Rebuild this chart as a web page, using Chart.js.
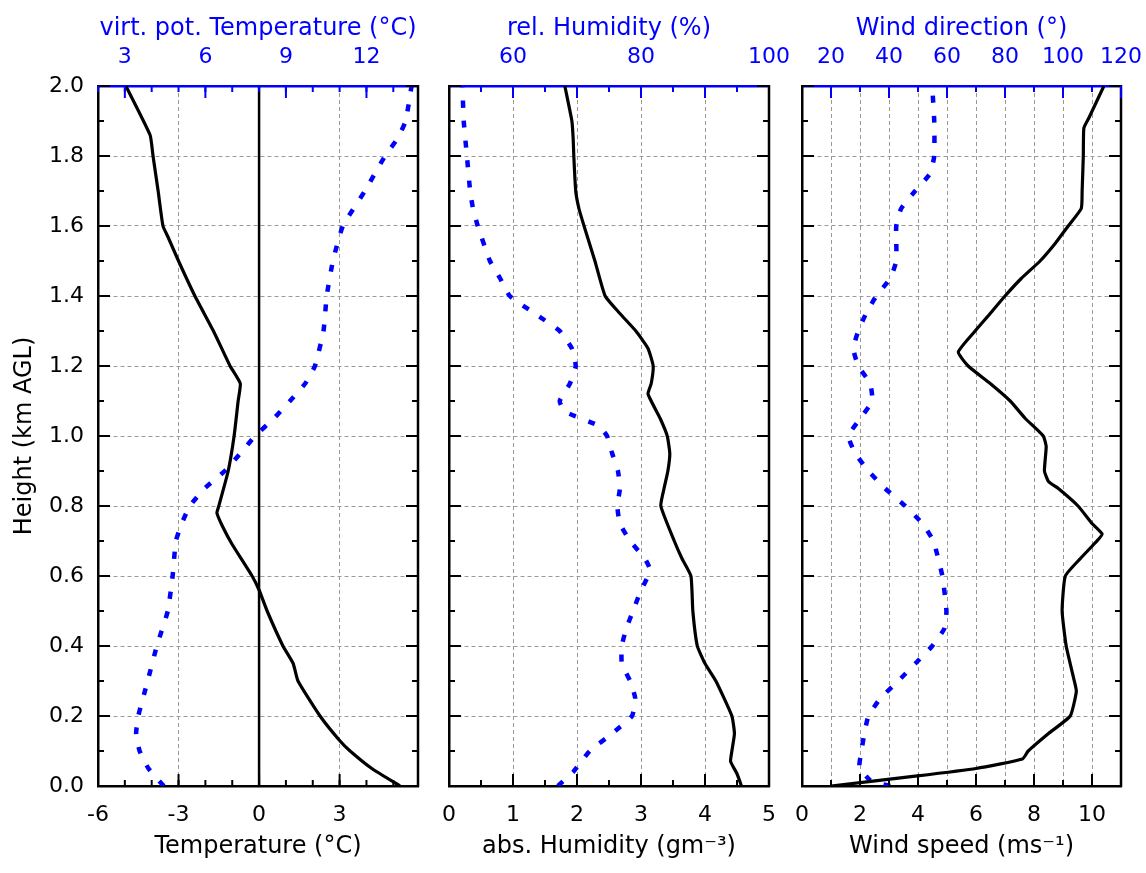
<!DOCTYPE html>
<html>
<head>
<meta charset="utf-8">
<script src="https://cdn.jsdelivr.net/npm/chart.js@4.4.0/dist/chart.umd.min.js"></script>
<style>
  html, body { margin: 0; padding: 0; background: #fff; }
  #wrap { position: relative; width: 1146px; height: 873px; overflow: hidden; }
  canvas { position: absolute; top: 0; }
</style>
</head>
<body>
<div id="wrap">
  <canvas id="tempCanvas" width="440" height="873" style="left:0px"></canvas>
  <canvas id="humCanvas" width="365" height="873" style="left:430px"></canvas>
  <canvas id="windCanvas" width="361" height="873" style="left:785px"></canvas>
</div>
<script>
// profile values (height in km AGL)
var tempHeight = [0.00, 0.05, 0.10, 0.13, 0.20, 0.30, 0.35, 0.40, 0.50, 0.56, 0.60, 0.69, 0.74, 0.78, 0.80, 0.90, 1.00, 1.10, 1.15, 1.20, 1.30, 1.40, 1.50, 1.57, 1.60, 1.70, 1.80, 1.86, 2.00];
var tempValue = [5.25, 4.2, 3.39, 3.0, 2.27, 1.45, 1.27, 0.89, 0.3, 0.0, -0.26, -1.0, -1.35, -1.57, -1.5, -1.15, -0.93, -0.78, -0.7, -1.08, -1.7, -2.39, -3.0, -3.4, -3.58, -3.76, -3.95, -4.06, -4.96];

var thetaHeight = [0.00, 0.05, 0.10, 0.15, 0.20, 0.30, 0.40, 0.50, 0.60, 0.70, 0.75, 0.80, 0.85, 0.90, 0.95, 1.00, 1.05, 1.10, 1.15, 1.20, 1.30, 1.40, 1.50, 1.60, 1.70, 1.80, 1.85, 1.90, 2.00];
var thetaValue = [4.45, 3.88, 3.55, 3.42, 3.5, 3.85, 4.19, 4.6, 4.78, 4.9, 5.12, 5.42, 5.97, 6.72, 7.3, 7.85, 8.55, 9.15, 9.72, 10.08, 10.4, 10.52, 10.75, 11.12, 11.94, 12.69, 13.16, 13.46, 13.68];

var absHeight = [0.00, 0.035, 0.07, 0.10, 0.15, 0.20, 0.30, 0.35, 0.40, 0.50, 0.60, 0.65, 0.70, 0.80, 0.85, 0.90, 0.95, 1.00, 1.05, 1.12, 1.15, 1.20, 1.25, 1.30, 1.35, 1.40, 1.50, 1.60, 1.65, 1.70, 1.80, 1.85, 1.90, 2.00];
var absValue = [4.57, 4.5, 4.4, 4.42, 4.46, 4.42, 4.17, 4.0, 3.88, 3.81, 3.78, 3.64, 3.52, 3.31, 3.36, 3.42, 3.45, 3.41, 3.3, 3.11, 3.16, 3.19, 3.11, 2.92, 2.67, 2.44, 2.28, 2.11, 2.03, 1.98, 1.95, 1.94, 1.92, 1.81];

var rhHeight = [0.00, 0.04, 0.10, 0.15, 0.20, 0.25, 0.30, 0.35, 0.40, 0.45, 0.50, 0.55, 0.60, 0.62, 0.65, 0.70, 0.75, 0.80, 0.85, 0.90, 0.95, 1.00, 1.03, 1.07, 1.10, 1.15, 1.20, 1.25, 1.30, 1.35, 1.40, 1.45, 1.50, 1.60, 1.65, 1.70, 1.80, 1.90, 2.00];
var rhValue = [67, 69.4, 72, 75.5, 78.6, 79.1, 78.3, 77, 77, 77.7, 78.75, 79.8, 81.1, 81.4, 80.6, 78.3, 76.7, 76.3, 76.7, 76.4, 75.5, 74.7, 73.3, 68.1, 67.3, 68.9, 69.8, 69.2, 67.3, 63.4, 59.5, 58, 56.4, 54.5, 53.75, 53.3, 52.8, 52.3, 52.1];

var speedHeight = [0.00, 0.028, 0.05, 0.077, 0.10, 0.15, 0.20, 0.27, 0.30, 0.40, 0.50, 0.60, 0.65, 0.70, 0.72, 0.75, 0.80, 0.85, 0.87, 0.90, 0.97, 1.00, 1.05, 1.10, 1.15, 1.20, 1.24, 1.30, 1.35, 1.40, 1.45, 1.50, 1.55, 1.60, 1.65, 1.70, 1.80, 1.88, 1.91, 2.00];
var speedValue = [1.0, 3.9, 6.0, 7.6, 7.8, 8.5, 9.25, 9.46, 9.39, 9.11, 8.97, 9.08, 9.6, 10.17, 10.35, 10.0, 9.52, 8.84, 8.5, 8.36, 8.42, 8.32, 7.7, 7.18, 6.49, 5.73, 5.39, 5.97, 6.49, 7.0, 7.56, 8.21, 8.73, 9.18, 9.63, 9.66, 9.7, 9.72, 9.9, 10.41];

var dirHeight = [0.00, 0.016, 0.054, 0.10, 0.15, 0.20, 0.25, 0.30, 0.35, 0.40, 0.45, 0.50, 0.60, 0.70, 0.75, 0.80, 0.85, 0.90, 0.95, 1.00, 1.05, 1.10, 1.15, 1.20, 1.25, 1.30, 1.35, 1.40, 1.45, 1.50, 1.60, 1.65, 1.70, 1.75, 1.80, 1.90, 2.00];
var dirValue = [40.4, 33.6, 29.8, 30.5, 31.5, 32.9, 37, 43.2, 49.1, 54.9, 59.1, 59.8, 58.4, 55.3, 51.5, 45.6, 38.7, 32.9, 28.4, 26.0, 30.1, 34.2, 33.5, 29.4, 27.7, 29.4, 32.1, 35.6, 40.4, 42.5, 42.5, 44.2, 49, 54.2, 55.6, 55.6, 54.9];

// tick labels
var heightTicks = [0.0, 0.2, 0.4, 0.6, 0.8, 1.0, 1.2, 1.4, 1.6, 1.8, 2.0];
var tempTicks = [-6, -3, 0, 3];
var thetaTicks = [3, 6, 9, 12];
var absTicks = [0, 1, 2, 3, 4, 5];
var rhTicks = [60, 80, 100];
var speedTicks = [0, 1, 2, 3, 4, 5, 6, 7, 8, 9, 10];
var dirTicks = [20, 40, 60, 80, 100, 120];

var BLUE = '#0000ff';
var GRID = '#9a9a9a';
var FONT = 'DejaVu Sans';

function pairs(h, v) {
    return h.map(function (y, i) { return {x: v[i], y: y}; });
}
function steps(a, b, s) {
    var out = [];
    for (var v = a; v <= b + 1e-9; v += s) out.push(Math.round(v * 1000) / 1000);
    return out;
}
function fixedTicks(list) {
    return function (scale) { scale.ticks = list.map(function (v) { return {value: v}; }); };
}
function fixedSize(n) {
    return function (scale) {
        if (scale.isHorizontal()) scale.height = n; else scale.width = n;
        scale.paddingLeft = scale.paddingRight = scale.paddingTop = scale.paddingBottom = 0;
    };
}

// inward tick marks on all four sides, the right frame line and an optional zero line
function frameTicks(spec) {
    return {
        id: 'frameTicks',
        beforeDatasetsDraw: function (chart) {
            if (!spec.zeroLine) return;
            var a = chart.chartArea, ctx = chart.ctx;
            var x = chart.scales.x.getPixelForValue(0);
            ctx.save();
            ctx.strokeStyle = '#000';
            ctx.lineWidth = 2.5;
            ctx.beginPath(); ctx.moveTo(x, a.top); ctx.lineTo(x, a.bottom); ctx.stroke();
            ctx.restore();
        },
        afterDraw: function (chart) {
            var a = chart.chartArea, ctx = chart.ctx;
            var sx = chart.scales.x, st = chart.scales.x2, sy = chart.scales.y;
            ctx.save();
            ctx.lineWidth = 2.5;
            ctx.strokeStyle = '#000';
            ctx.beginPath(); ctx.moveTo(a.right, a.top - 1); ctx.lineTo(a.right, a.bottom + 1); ctx.stroke();
            ctx.lineWidth = 2;
            function mark(x1, y1, x2, y2) { ctx.beginPath(); ctx.moveTo(x1, y1); ctx.lineTo(x2, y2); ctx.stroke(); }
            function bottom(vals, len) { vals.forEach(function (v) { var x = sx.getPixelForValue(v); mark(x, a.bottom, x, a.bottom - len); }); }
            function top(vals, len) { vals.forEach(function (v) { var x = st.getPixelForValue(v); mark(x, a.top, x, a.top + len); }); }
            function sides(vals, len) {
                vals.forEach(function (v) {
                    var y = sy.getPixelForValue(v);
                    mark(a.left, y, a.left + len, y);
                    mark(a.right, y, a.right - len, y);
                });
            }
            bottom(spec.bottom[0], 12); bottom(spec.bottom[1], 6);
            sides(steps(0, 2, 0.2), 12); sides(steps(0.1, 1.9, 0.2), 6);
            ctx.strokeStyle = BLUE;
            top(spec.top[0], 12); top(spec.top[1], 6);
            ctx.restore();
        }
    };
}

function heightAxis(width, labels) {
    return {
        type: 'linear', position: 'left', min: 0, max: 2,
        afterBuildTicks: fixedTicks(heightTicks),
        afterFit: fixedSize(width),
        grid: {
            drawTicks: false, lineWidth: 1,
            color: function (c) { return (c.tick && c.tick.value > 0 && c.tick.value < 2) ? GRID : 'rgba(0,0,0,0)'; }
        },
        border: {color: '#000', width: 2.5, dash: [4, 3]},
        ticks: {
            display: labels, padding: 14, color: '#000',
            font: {family: FONT, size: 22},
            callback: function (v) { return v.toFixed(1); }
        },
        title: {
            display: labels, text: 'Height (km AGL)', color: '#000',
            font: {family: FONT, size: 24}, padding: {top: 10, bottom: 0}
        }
    };
}

function bottomAxis(min, max, ticks, gridAt, title, labelFn) {
    return {
        type: 'linear', position: 'bottom', min: min, max: max,
        afterBuildTicks: fixedTicks(ticks),
        afterFit: fixedSize(87),
        grid: {
            drawTicks: false, lineWidth: 1,
            color: function (c) { return (c.tick && gridAt(c.tick.value)) ? GRID : 'rgba(0,0,0,0)'; }
        },
        border: {color: '#000', width: 2.5, dash: [4, 3]},
        ticks: {
            padding: 16, color: '#000', autoSkip: false, maxRotation: 0,
            font: {family: FONT, size: 22},
            callback: labelFn || function (v) { return String(v); }
        },
        title: {
            display: true, text: title, color: '#000',
            font: {family: FONT, size: 24}, padding: {top: 0, bottom: 12}
        }
    };
}

function topAxis(min, max, ticks, title) {
    return {
        type: 'linear', position: 'top', min: min, max: max,
        afterBuildTicks: fixedTicks(ticks),
        afterFit: fixedSize(86),
        grid: {drawTicks: false, drawOnChartArea: false},
        border: {color: BLUE, width: 2.5},
        ticks: {
            padding: 16, color: BLUE, autoSkip: false, maxRotation: 0,
            font: {family: FONT, size: 22},
            callback: function (v) { return String(v); }
        },
        title: {
            display: true, text: title, color: BLUE,
            font: {family: FONT, size: 24}, padding: {top: 14, bottom: 0}
        }
    };
}

function solid(points) {
    return {data: points, xAxisID: 'x', yAxisID: 'y', showLine: true, pointRadius: 0,
            borderColor: '#000', borderWidth: 3.2, tension: 0.15, order: 1};
}
function dotted(points) {
    return {data: points, xAxisID: 'x2', yAxisID: 'y', showLine: true, pointRadius: 0,
            borderColor: BLUE, borderWidth: 4.5, borderDash: [7, 13], tension: 0.15, order: 2};
}

Chart.defaults.font.family = FONT;

var common = {
    responsive: false,
    animation: false,
    layout: {autoPadding: false},
    plugins: {legend: {display: false}, tooltip: {enabled: false}}
};

var tempChart = new Chart(document.getElementById('tempCanvas'), {
    type: 'scatter',
    data: {datasets: [solid(pairs(tempHeight, tempValue)), dotted(pairs(thetaHeight, thetaValue))]},
    options: Object.assign({}, common, {
        layout: {autoPadding: false, padding: {left: 0, right: 22, top: 0, bottom: 0}},
        scales: {
            x: bottomAxis(-6, 5.92, tempTicks, function (v) { return v === -3 || v === 3; }, 'Temperature (°C)'),
            x2: topAxis(2, 13.92, thetaTicks, 'virt. pot. Temperature (°C)'),
            y: heightAxis(98, true)
        }
    }),
    plugins: [frameTicks({zeroLine: true, bottom: [tempTicks, steps(-5, 5, 1)], top: [thetaTicks, steps(2, 13, 1)]})]
});

var humChart = new Chart(document.getElementById('humCanvas'), {
    type: 'scatter',
    data: {datasets: [solid(pairs(absHeight, absValue)), dotted(pairs(rhHeight, rhValue))]},
    options: Object.assign({}, common, {
        layout: {autoPadding: false, padding: {left: 0, right: 26, top: 0, bottom: 0}},
        scales: {
            x: bottomAxis(0, 5, absTicks, function (v) { return v > 0 && v < 5; }, 'abs. Humidity (gm⁻³)'),
            x2: topAxis(50, 100, rhTicks, 'rel. Humidity (%)'),
            y: heightAxis(19, false)
        }
    }),
    plugins: [frameTicks({bottom: [absTicks, steps(0.5, 4.5, 1)], top: [[60, 70, 80, 90], steps(55, 95, 10)]})]
});

var windChart = new Chart(document.getElementById('windCanvas'), {
    type: 'scatter',
    data: {datasets: [solid(pairs(speedHeight, speedValue)), dotted(pairs(dirHeight, dirValue))]},
    options: Object.assign({}, common, {
        layout: {autoPadding: false, padding: {left: 0, right: 25, top: 0, bottom: 0}},
        scales: {
            x: bottomAxis(0, 11, speedTicks, function (v) { return v > 0; }, 'Wind speed (ms⁻¹)',
                          function (v) { return v % 2 === 0 ? String(v) : ''; }),
            x2: topAxis(10, 120, dirTicks, 'Wind direction (°)'),
            y: heightAxis(17, false)
        }
    }),
    plugins: [frameTicks({bottom: [[2, 4, 6, 8, 10], steps(1, 9, 2)], top: [dirTicks, steps(30, 110, 20)]})]
});
</script>
</body>
</html>
